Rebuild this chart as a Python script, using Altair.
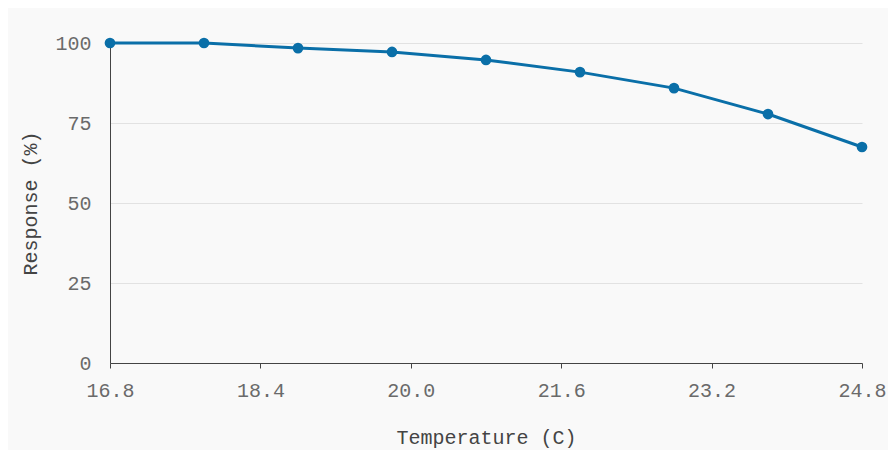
import altair as alt
import pandas as pd

temperature = [16.8, 17.8, 18.8, 19.8, 20.8, 21.8, 22.8, 23.8, 24.8]
response = [100, 100, 98.4, 97.2, 94.7, 90.9, 85.9, 77.8, 67.5]
x_ticks = [16.8, 18.4, 20.0, 21.6, 23.2, 24.8]
y_ticks = [0, 25, 50, 75, 100]

df = pd.DataFrame({"Temperature": temperature, "Response": response})

FONT = "Liberation Mono"

x = alt.X("Temperature:Q", title="Temperature (C)",
          scale=alt.Scale(domain=[16.8, 24.8], nice=False, zero=False),
          axis=alt.Axis(values=x_ticks, format=".1f", grid=False, tickSize=5,
                        labelPadding=12, titlePadding=27, domainColor="#444",
                        tickColor="#444", labelColor="#6a6a6a", titleColor="#444",
                        labelFontSize=20, titleFontSize=20, titleFontWeight="normal",
                        labelFont=FONT, titleFont=FONT, labelFlush=False))
y = alt.Y("Response:Q", title="Response (%)",
          scale=alt.Scale(domain=[0, 100], nice=False),
          axis=alt.Axis(values=y_ticks, grid=True, gridColor="#e2e2e2", ticks=False,
                        labelPadding=19, titlePadding=14, domainColor="#444",
                        labelColor="#6a6a6a", titleColor="#444",
                        labelFontSize=20, titleFontSize=20, titleFontWeight="normal",
                        labelFont=FONT, titleFont=FONT))

line = alt.Chart(df).mark_line(color="#0a6fa8", strokeWidth=3).encode(x=x, y=y)
pts = alt.Chart(df).mark_point(color="#0a6fa8", filled=True, opacity=1, size=115).encode(x=x, y=y)

chart = (line + pts).properties(
    width=752, height=320, background="#f9f9f9",
    autosize=alt.AutoSizeParams(type="none"),
    padding={"left": 102, "top": 35, "right": 26, "bottom": 87}
).configure_view(stroke=None)

chart.save("out.html", embed_options={"renderer": "svg", "actions": False})
